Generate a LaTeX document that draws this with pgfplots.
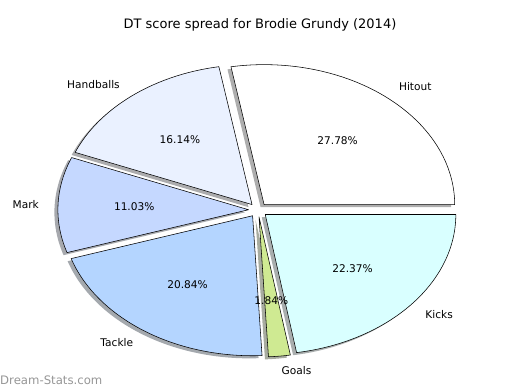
\documentclass[border=0pt]{standalone}
\usepackage{fontspec}
\setmainfont{DejaVu Sans}
\usepackage{pgfplots}
\pgfplotsset{compat=1.18}
\definecolor{cHit}{RGB}{255,255,255}
\definecolor{cHand}{RGB}{234,241,255}
\definecolor{cMark}{RGB}{197,216,255}
\definecolor{cTack}{RGB}{180,213,255}
\definecolor{cGoal}{RGB}{207,234,146}
\definecolor{cKick}{RGB}{217,255,255}
\definecolor{wm}{RGB}{150,150,150}
% #1 cumulative start (%), #2 share (%), #3 style, #4 dx, #5 dy
\newcommand{\wedgeshape}[5]{%
\addplot[#3, domain={3.6*#1}:{3.6*(#1+#2)}, samples=90, variable=\t]
 ({258+9.5*cos(3.6*(#1+#2/2))+#4+190.6*cos(\t)},{180+7*sin(3.6*(#1+#2/2))+#5+140*sin(\t)})
 -- (axis cs:{258+9.5*cos(3.6*(#1+#2/2))+#4},{180+7*sin(3.6*(#1+#2/2))+#5}) -- cycle;
}
% #1 start, #2 share, #3 name, #4 anchor
\newcommand{\wedgelabels}[4]{%
\node[anchor=#4, font=\fontsize{10.6}{12}\selectfont, inner sep=0pt] at
 (axis cs:{258+9.5*cos(3.6*(#1+#2/2))+1.1*190.6*cos(3.6*(#1+#2/2))},{180+7*sin(3.6*(#1+#2/2))+1.1*140*sin(3.6*(#1+#2/2))}) {#3};
\node[anchor=center, font=\fontsize{10.6}{12}\selectfont, inner sep=0pt] at
 (axis cs:{258+9.5*cos(3.6*(#1+#2/2))+0.6*190.6*cos(3.6*(#1+#2/2))},{180+7*sin(3.6*(#1+#2/2))+0.6*140*sin(3.6*(#1+#2/2))}) {#2\%};
}
\begin{document}
\begin{tikzpicture}
\begin{axis}[
  scale only axis, width=520pt, height=390pt,
  xmin=0, xmax=520, ymin=0, ymax=390,
  hide axis, clip=false]
\addplot[draw=none] coordinates {(0,0) (520,390)};
% shadows
\wedgeshape{0}{27.78}{draw=none, fill=cHit!30!black, fill opacity=0.45}{-3.5}{-2.6}
\wedgeshape{27.78}{16.14}{draw=none, fill=cHand!30!black, fill opacity=0.45}{-3.5}{-2.6}
\wedgeshape{43.92}{11.03}{draw=none, fill=cMark!30!black, fill opacity=0.45}{-3.5}{-2.6}
\wedgeshape{54.95}{20.84}{draw=none, fill=cTack!30!black, fill opacity=0.45}{-3.5}{-2.6}
\wedgeshape{75.79}{1.84}{draw=none, fill=cGoal!30!black, fill opacity=0.45}{-3.5}{-2.6}
\wedgeshape{77.63}{22.37}{draw=none, fill=cKick!30!black, fill opacity=0.45}{-3.5}{-2.6}
% wedges
\wedgeshape{0}{27.78}{draw=black, line width=0.55pt, line join=round, fill=cHit}{0}{0}
\wedgeshape{27.78}{16.14}{draw=black, line width=0.55pt, line join=round, fill=cHand}{0}{0}
\wedgeshape{43.92}{11.03}{draw=black, line width=0.55pt, line join=round, fill=cMark}{0}{0}
\wedgeshape{54.95}{20.84}{draw=black, line width=0.55pt, line join=round, fill=cTack}{0}{0}
\wedgeshape{75.79}{1.84}{draw=black, line width=0.55pt, line join=round, fill=cGoal}{0}{0}
\wedgeshape{77.63}{22.37}{draw=black, line width=0.55pt, line join=round, fill=cKick}{0}{0}
% labels
\wedgelabels{0}{27.78}{Hitout}{west}
\wedgelabels{27.78}{16.14}{Handballs}{east}
\wedgelabels{43.92}{11.03}{Mark}{east}
\wedgelabels{54.95}{20.84}{Tackle}{east}
\wedgelabels{75.79}{1.84}{Goals}{west}
\wedgelabels{77.63}{22.37}{Kicks}{west}
\node[font=\fontsize{13}{15}\selectfont, inner sep=0pt] at (axis cs:260,365) {DT score spread for Brodie Grundy (2014)};
\node[anchor=west, text=wm, font=\fontsize{11.7}{13}\selectfont, inner sep=0pt] at (axis cs:0,10) {Dream-Stats.com};
\end{axis}
\end{tikzpicture}
\end{document}
